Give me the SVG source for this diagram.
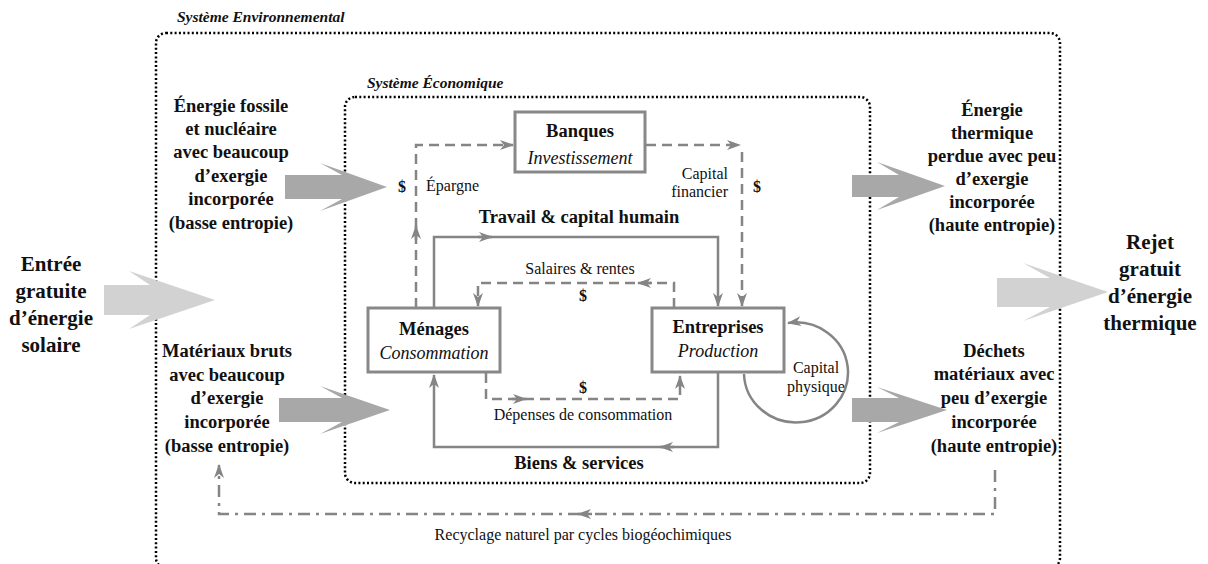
<svg xmlns="http://www.w3.org/2000/svg" width="1208" height="564" viewBox="0 0 1208 564">
<defs>
<marker id="ah" viewBox="0 0 14 10" refX="13" refY="5" markerWidth="14" markerHeight="10" markerUnits="userSpaceOnUse" orient="auto">
<path d="M0,0 L14,5 L0,10 L4,5 z" fill="#858585"/>
</marker>
<style>
.t{font-family:"Liberation Serif","Times New Roman",serif;fill:#111;}
.b{font-weight:bold;}
.i{font-style:italic;}
.big{font-size:18.5px;font-weight:bold;text-anchor:middle;}
.huge{font-size:21px;font-weight:bold;text-anchor:middle;}
.sys{font-size:15.5px;font-weight:bold;font-style:italic;}
.lbl{font-size:16px;}
.mid{text-anchor:middle;}
.end{text-anchor:end;}
.box{fill:#fff;stroke:#888;stroke-width:3;}
.dot{fill:none;stroke:#000;stroke-width:2.5;stroke-dasharray:2 2.3;}
.sol{fill:none;stroke:#858585;stroke-width:2.5;}
.dsh{fill:none;stroke:#858585;stroke-width:2.5;stroke-dasharray:10 6;}
.dd{fill:none;stroke:#858585;stroke-width:2.5;stroke-dasharray:12 6 3 6;}
.arr{fill:none;stroke:#858585;stroke-width:2.5;marker-end:url(#ah);}
.dk{fill:#a8a8a8;}
.lt{fill:#d2d2d2;}
</style>
</defs>

<g id="systeme-environnemental">
<rect class="dot" x="156" y="33" width="904" height="535" rx="10"/>
<text class="t sys" x="177" y="22">Système Environnemental</text>
</g>

<g id="systeme-economique">
<rect class="dot" x="345" y="97" width="525" height="386" rx="10"/>
<text class="t sys" x="367" y="88">Système Économique</text>
</g>

<g id="flux-energie">
<polygon class="lt" points="104,285 150,285 129,271 215,300 129,329 150,315 104,315"/>
<polygon class="dk" points="285,175 342,175 320,163 387,187 320,211 342,199 285,199"/>
<polygon class="dk" points="279,398 342,398 320,386 390,410 320,434 342,422 279,422"/>
<polygon class="dk" points="852,175 899,175 877,162 945,186 877,210 899,197 852,197"/>
<polygon class="dk" points="852,398 899,398 877,387 947,410 877,433 899,422 852,422"/>
<polygon class="lt" points="997,278 1050,278 1023,263 1108,292 1023,321 1050,307 997,307"/>
</g>

<g id="connecteurs">
<path class="sol" d="M434,308 V237 H718 V306" marker-end="url(#ah)"/>
<path class="arr" d="M478,237 L492,237"/>
<path class="sol" d="M718,373 V447 H434 V375" marker-end="url(#ah)"/>
<path class="arr" d="M674,447 L660,447"/>
<path class="dsh" d="M674,308 V283 H478 V306" marker-end="url(#ah)"/>
<path class="arr" d="M652,283 L638,283"/>
<path class="dsh" d="M486,373 V399 H680 V376" marker-end="url(#ah)"/>
<path class="arr" d="M512,399 L526,399"/>
<path class="dsh" d="M416,308 V145 H513" marker-end="url(#ah)"/>
<path class="arr" d="M416,240 L416,226"/>
<path class="dsh" d="M646,145 H740" marker-end="url(#ah)"/>
<path class="dsh" d="M742,152 V306" marker-end="url(#ah)"/>
<path class="sol" d="M744,374 A52,50 0 1 0 788,323" marker-end="url(#ah)"/>
<path class="dd" d="M995,470 V514 H219 V465" marker-end="url(#ah)"/>
<path class="arr" d="M592,514 L578,514"/>
</g>

<g id="banques">
<rect class="box" x="515" y="112" width="130" height="60"/>
<text class="t b mid" x="580" y="137" font-size="18.5">Banques</text>
<text class="t i mid" x="580" y="164" font-size="18">Investissement</text>
</g>

<g id="menages">
<rect class="box" x="368" y="308" width="132" height="64"/>
<text class="t b mid" x="434" y="335" font-size="18.5">Ménages</text>
<text class="t i mid" x="434" y="359" font-size="18">Consommation</text>
</g>

<g id="entreprises">
<rect class="box" x="652" y="308" width="132" height="64"/>
<text class="t b mid" x="718" y="333" font-size="18.5">Entreprises</text>
<text class="t i mid" x="718" y="357" font-size="18">Production</text>
</g>

<g id="etiquettes">
<text class="t big" x="579" y="223">Travail &amp; capital humain</text>
<text class="t big" x="579" y="469">Biens &amp; services</text>
<text class="t lbl mid" x="580" y="274">Salaires &amp; rentes</text>
<text class="t b lbl mid" x="583" y="301">$</text>
<text class="t b lbl mid" x="583" y="393">$</text>
<text class="t lbl mid" x="583" y="420">Dépenses de consommation</text>
<text class="t lbl" x="426" y="191">Épargne</text>
<text class="t b lbl mid" x="402" y="192">$</text>
<text class="t lbl end" x="728" y="179">Capital</text>
<text class="t lbl end" x="728" y="197">financier</text>
<text class="t b lbl mid" x="757" y="192">$</text>
<text class="t lbl mid" x="816" y="373">Capital</text>
<text class="t lbl mid" x="816" y="392">physique</text>
<text class="t lbl mid" x="583" y="540">Recyclage naturel par cycles biogéochimiques</text>
</g>

<g id="entree-solaire">
<text class="t huge" x="51" y="271">Entrée</text>
<text class="t huge" x="51" y="298">gratuite</text>
<text class="t huge" x="51" y="325">d’énergie</text>
<text class="t huge" x="51" y="352">solaire</text>
</g>

<g id="energie-fossile">
<text class="t big" x="231" y="112">Énergie fossile</text>
<text class="t big" x="231" y="135">et nucléaire</text>
<text class="t big" x="231" y="158">avec beaucoup</text>
<text class="t big" x="231" y="182">d’exergie</text>
<text class="t big" x="231" y="205">incorporée</text>
<text class="t big" x="231" y="229">(basse entropie)</text>
</g>

<g id="materiaux-bruts">
<text class="t big" x="227" y="357">Matériaux bruts</text>
<text class="t big" x="227" y="381">avec beaucoup</text>
<text class="t big" x="227" y="404">d’exergie</text>
<text class="t big" x="227" y="428">incorporée</text>
<text class="t big" x="227" y="452">(basse entropie)</text>
</g>

<g id="energie-thermique">
<text class="t big" x="992" y="116">Énergie</text>
<text class="t big" x="992" y="139">thermique</text>
<text class="t big" x="992" y="162">perdue avec peu</text>
<text class="t big" x="992" y="185">d’exergie</text>
<text class="t big" x="992" y="208">incorporée</text>
<text class="t big" x="992" y="231">(haute entropie)</text>
</g>

<g id="dechets">
<text class="t big" x="994" y="357">Déchets</text>
<text class="t big" x="994" y="380">matériaux avec</text>
<text class="t big" x="994" y="404">peu d’exergie</text>
<text class="t big" x="994" y="428">incorporée</text>
<text class="t big" x="994" y="452">(haute entropie)</text>
</g>

<g id="rejet-thermique">
<text class="t huge" x="1150" y="249">Rejet</text>
<text class="t huge" x="1150" y="276">gratuit</text>
<text class="t huge" x="1150" y="303">d’énergie</text>
<text class="t huge" x="1150" y="330">thermique</text>
</g>
</svg>
